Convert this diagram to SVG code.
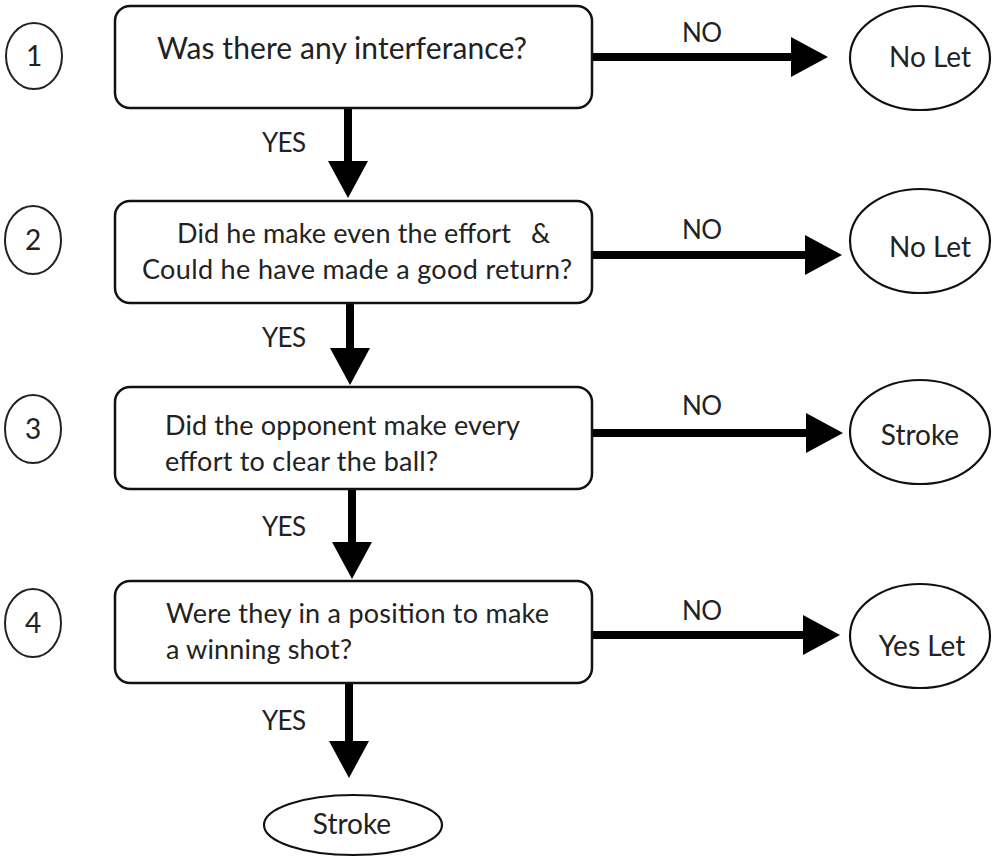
<svg xmlns="http://www.w3.org/2000/svg" width="992" height="857" viewBox="0 0 992 857">
<style>
  .box { fill: #fff; stroke: #111; stroke-width: 2.5; }
  .num { fill: #fff; stroke: #222; stroke-width: 2; }
  .end { fill: #fff; stroke: #111; stroke-width: 2.2; }
  .t { font-family: Lato, "Liberation Sans", Arial, sans-serif; fill: #222; }
  .q1 { font-size: 30px; }
  .q { font-size: 27px; }
  .lab { font-size: 26px; }
  .res { font-size: 28px; text-anchor: middle; }
  .dig { font-size: 28px; text-anchor: middle; }
  .arr { stroke: #000; stroke-width: 8; fill: none; marker-end: url(#ah); }
</style>
<defs>
  <marker id="ah" markerUnits="userSpaceOnUse" markerWidth="40" markerHeight="42" viewBox="0 -21 40 42" refX="1" refY="0" orient="auto" overflow="visible">
    <path d="M0,-20 L37,0 L0,20 z" fill="#000"/>
  </marker>
</defs>
<rect width="992" height="857" fill="#fff"/>

<g id="connectors">
  <line class="arr" x1="593" y1="57" x2="792" y2="57"/>
  <line class="arr" x1="593" y1="255" x2="806" y2="255"/>
  <line class="arr" x1="593" y1="433" x2="807" y2="433"/>
  <line class="arr" x1="593" y1="635" x2="804" y2="635"/>
  <line class="arr" x1="348" y1="108" x2="348" y2="162"/>
  <line class="arr" x1="350" y1="303" x2="350" y2="349"/>
  <line class="arr" x1="352" y1="489" x2="352" y2="543"/>
  <line class="arr" x1="349" y1="683" x2="349" y2="742"/>
  <text class="t lab" x="682" y="42" textLength="40">NO</text>
  <text class="t lab" x="682" y="239" textLength="40">NO</text>
  <text class="t lab" x="682" y="415" textLength="40">NO</text>
  <text class="t lab" x="682" y="620" textLength="40">NO</text>
  <text class="t lab" x="262" y="152" textLength="44">YES</text>
  <text class="t lab" x="262" y="347" textLength="44">YES</text>
  <text class="t lab" x="262" y="536" textLength="44">YES</text>
  <text class="t lab" x="262" y="730" textLength="44">YES</text>
</g>

<g id="n1">
  <ellipse class="num" cx="34" cy="56" rx="28" ry="33"/>
  <text class="t dig" x="34" y="66">1</text>
</g>
<g id="n2">
  <ellipse class="num" cx="33" cy="240" rx="28" ry="34"/>
  <text class="t dig" x="33" y="250">2</text>
</g>
<g id="n3">
  <ellipse class="num" cx="33" cy="429" rx="28" ry="34"/>
  <text class="t dig" x="33" y="439">3</text>
</g>
<g id="n4">
  <ellipse class="num" cx="33" cy="623" rx="28" ry="34"/>
  <text class="t dig" x="33" y="633">4</text>
</g>

<g id="q1">
  <rect class="box" x="115" y="6" width="477" height="102" rx="15"/>
  <text class="t q1" x="157" y="59" textLength="370">Was there any interferance?</text>
</g>
<g id="q2">
  <rect class="box" x="115" y="201" width="477" height="102" rx="15"/>
  <text class="t q" x="177" y="243"><tspan textLength="334">Did he make even the effort</tspan><tspan x="531">&amp;</tspan></text>
  <text class="t q" x="142" y="279" textLength="430">Could he have made a good return?</text>
</g>
<g id="q3">
  <rect class="box" x="115" y="387" width="477" height="102" rx="15"/>
  <text class="t q" x="165" y="435" textLength="355">Did the opponent make every</text>
  <text class="t q" x="165" y="471" textLength="273">effort to clear the ball?</text>
</g>
<g id="q4">
  <rect class="box" x="115" y="581" width="477" height="102" rx="15"/>
  <text class="t q" x="166" y="623" textLength="383">Were they in a position to make</text>
  <text class="t q" x="166" y="659" textLength="186">a winning shot?</text>
</g>

<g id="r1">
  <ellipse class="end" cx="920" cy="58" rx="70" ry="52"/>
  <text class="t res" x="930" y="67">No Let</text>
</g>
<g id="r2">
  <ellipse class="end" cx="920" cy="241" rx="70" ry="52"/>
  <text class="t res" x="930" y="257">No Let</text>
</g>
<g id="r3">
  <ellipse class="end" cx="920" cy="432" rx="70" ry="52"/>
  <text class="t res" x="920" y="445">Stroke</text>
</g>
<g id="r4">
  <ellipse class="end" cx="920" cy="636" rx="70" ry="52"/>
  <text class="t res" x="922" y="656">Yes Let</text>
</g>
<g id="r5">
  <ellipse class="end" cx="353" cy="825" rx="89" ry="30"/>
  <text class="t res" x="352" y="834">Stroke</text>
</g>
</svg>
